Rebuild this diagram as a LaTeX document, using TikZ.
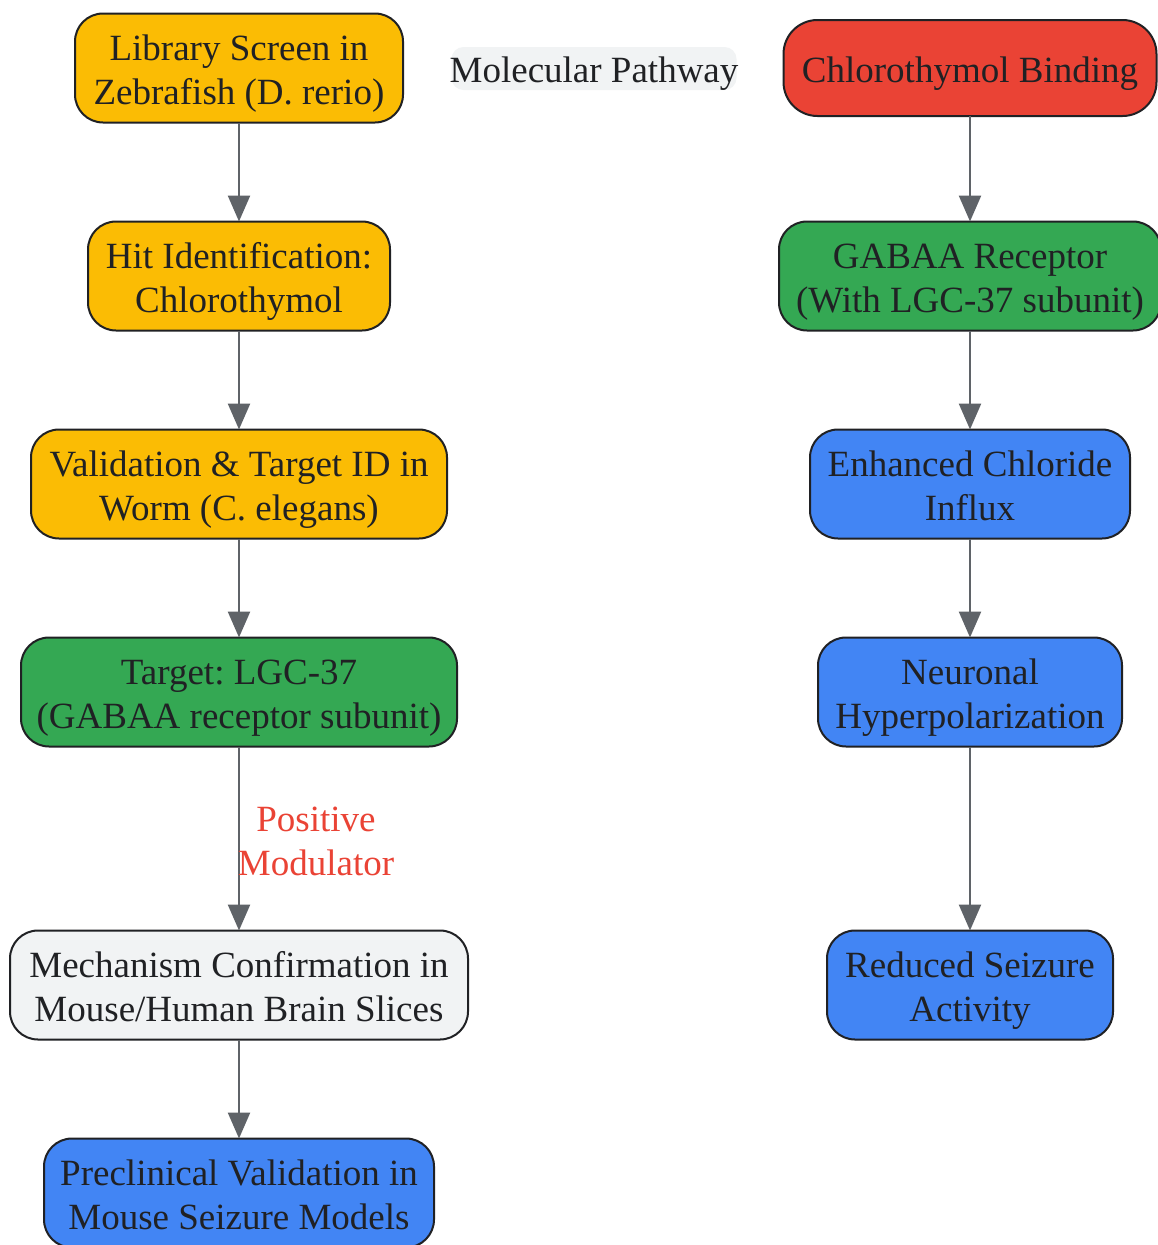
\documentclass[tikz,border=0pt]{standalone}
\usepackage{fontspec}
\setmainfont{Liberation Serif}
\usetikzlibrary{arrows.meta}
\frenchspacing
\definecolor{cyellow}{HTML}{FBBC04}
\definecolor{cgreen}{HTML}{34A853}
\definecolor{cblue}{HTML}{4285F4}
\definecolor{cred}{HTML}{EA4335}
\definecolor{cgray}{HTML}{F1F3F4}
\definecolor{ctext}{HTML}{202124}
\definecolor{cedge}{HTML}{5F6368}
\tikzset{
  box/.style={draw=ctext, line width=2pt, rounded corners=28pt, inner sep=0pt, outer sep=0pt,
    minimum height=109pt},
  txt/.style={align=center, text=ctext, font=\fontsize{37}{44}\selectfont\frenchspacing, inner sep=0pt, yshift=-8.4pt,
    execute at begin node={\strut}, execute at end node={\strut}},
  txtone/.style={txt, yshift=3pt},
  flow/.style={draw=cedge, line width=2.5pt, -{Triangle[length=26pt,width=22pt]}},
  elabel/.style={text=cred, align=center, font=\fontsize{37}{44}\selectfont, inner sep=0pt},
}
\begin{document}
\begin{tikzpicture}[x=1pt,y=-1pt]
\useasboundingbox (0,0) rectangle (1158,1245);
\fill[white] (0,0) rectangle (1158,1245);
% left column
\node[box, fill=cyellow, minimum width=328pt, label={[txt]center:{Library Screen in\\Zebrafish (D. rerio)}}] (lib) at (239,68) {};
\node[box, fill=cyellow, minimum width=302pt, label={[txt]center:{Hit Identification:\\Chlorothymol}}] (hit) at (239,276) {};
\node[box, fill=cyellow, minimum width=416pt, label={[txt]center:{Validation \& Target ID in\\Worm (C. elegans)}}] (val) at (239,484) {};
\node[box, fill=cgreen, minimum width=436pt, label={[txt]center:{Target: LGC-37\\(GABAA receptor subunit)}}] (tgt) at (239,692) {};
\node[box, fill=cgray, minimum width=458pt, label={[txt]center:{Mechanism Confirmation in\\Mouse/Human Brain Slices}}] (mech) at (239,985) {};
\node[box, fill=cblue, minimum width=390pt, label={[txt]center:{Preclinical Validation in\\Mouse Seizure Models}}] (pre) at (239,1193) {};
% right column
\node[fill=cgray, rounded corners=12pt, minimum width=285pt, minimum height=43pt, inner sep=0pt,
  label={[txtone]center:{Molecular Pathway}}] (title) at (594,68.5) {};
\node[box, fill=cred, minimum width=373pt, minimum height=96pt, rounded corners=34pt, label={[txtone]center:{Chlorothymol Binding}}] (bind) at (970,68) {};
\node[box, fill=cgreen, minimum width=382pt, label={[txt]center:{GABAA Receptor\\(With LGC-37 subunit)}}] (gaba) at (970,276) {};
\node[box, fill=cblue, minimum width=320pt, label={[txt]center:{Enhanced Chloride\\Influx}}] (enh) at (970,484) {};
\node[box, fill=cblue, minimum width=304pt, label={[txt]center:{Neuronal\\Hyperpolarization}}] (neu) at (970,692) {};
\node[box, fill=cblue, minimum width=286pt, label={[txt]center:{Reduced Seizure\\Activity}}] (red) at (970,985) {};
% edges
\draw[flow] (lib) -- (hit);
\draw[flow] (hit) -- (val);
\draw[flow] (val) -- (tgt);
\draw[flow] (tgt) -- node[elabel, pos=0.5, xshift=77pt, yshift=-3pt] (lbl) {Positive\\Modulator} (mech);
\draw[flow] (mech) -- (pre);
\draw[flow] (bind) -- (gaba);
\draw[flow] (gaba) -- (enh);
\draw[flow] (enh) -- (neu);
\draw[flow] (neu) -- (red);
\end{tikzpicture}
\end{document}
